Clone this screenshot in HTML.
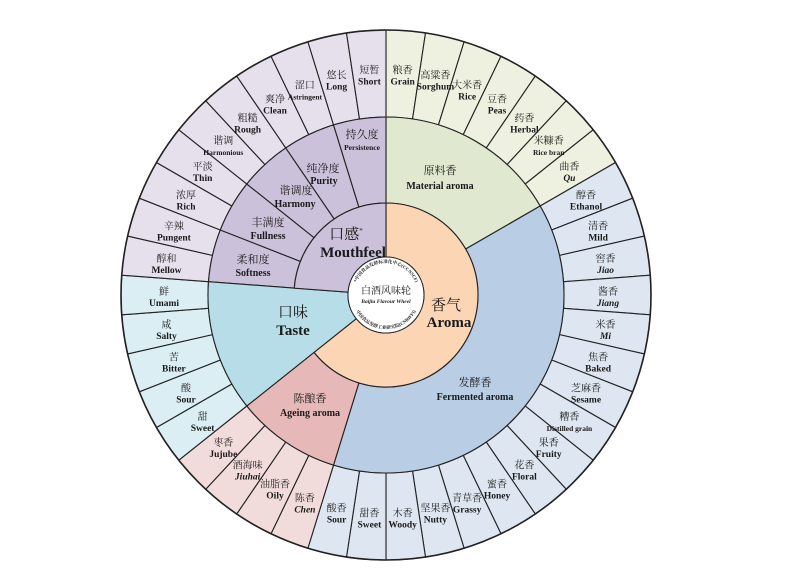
<!DOCTYPE html>
<html><head><meta charset="utf-8">
<style>
html,body{margin:0;padding:0;background:#fff;width:800px;height:569px;overflow:hidden}
svg{display:block}
text{font-family:"Liberation Serif","Noto Serif CJK SC","Noto Sans CJK SC",serif;fill:#1a1a1a;text-anchor:middle}
.c{font-size:10px}
.e{font-size:9.5px;font-weight:bold}
.s{font-size:7.5px;font-weight:bold}
.i{font-style:italic}
.mc{font-size:11px}
.me{font-size:10px;font-weight:bold}
.bc{font-size:15px}
.be{font-size:15px;font-weight:bold}
</style></head><body>
<svg id="s" width="800" height="569" viewBox="0 0 800 569" xmlns="http://www.w3.org/2000/svg">
<g id="w"></g>
<circle cx="386" cy="295" r="38" fill="#fff" stroke="#222" stroke-width="1"/>
<defs>
<path id="tp" d="M 354 295 A 32 32 0 0 1 418 295"/>
<path id="bp" d="M 352 295 A 34 34 0 0 0 420 295"/>
</defs>
<text style="font-size:4.6px;font-weight:bold"><textPath href="#tp" startOffset="50%">*中国食品发酵标准化中心(CCNSCF)</textPath></text>
<text style="font-size:4.6px;font-weight:bold"><textPath href="#bp" startOffset="50%">中国食品发酵工业研究院(CNRIFFI)</textPath></text>
<text x="386" y="294" style="font-size:10px">白酒风味轮</text>
<text x="386" y="303" class="i" style="font-size:5.5px;font-weight:bold">Baijiu Flavour Wheel</text>

<g id="o">
<g><text class="c">粮香</text><text class="e" y="11">Grain</text></g>
<g><text class="c">高粱香</text><text class="e" y="11">Sorghum</text></g>
<g><text class="c">大米香</text><text class="e" y="11">Rice</text></g>
<g><text class="c">豆香</text><text class="e" y="11">Peas</text></g>
<g><text class="c">药香</text><text class="e" y="11">Herbal</text></g>
<g><text class="c">米糠香</text><text class="s" y="11">Rice bran</text></g>
<g><text class="c">曲香</text><text class="e i" y="11">Qu</text></g>
<g><text class="c">醇香</text><text class="e" y="11">Ethanol</text></g>
<g><text class="c">清香</text><text class="e" y="11">Mild</text></g>
<g><text class="c">窖香</text><text class="e i" y="11">Jiao</text></g>
<g><text class="c">酱香</text><text class="e i" y="11">Jiang</text></g>
<g><text class="c">米香</text><text class="e i" y="11">Mi</text></g>
<g><text class="c">焦香</text><text class="e" y="11">Baked</text></g>
<g><text class="c">芝麻香</text><text class="e" y="11">Sesame</text></g>
<g><text class="c">糟香</text><text class="s" y="11">Distilled grain</text></g>
<g><text class="c">果香</text><text class="e" y="11">Fruity</text></g>
<g><text class="c">花香</text><text class="e" y="11">Floral</text></g>
<g><text class="c">蜜香</text><text class="e" y="11">Honey</text></g>
<g><text class="c">青草香</text><text class="e" y="11">Grassy</text></g>
<g><text class="c">坚果香</text><text class="e" y="11">Nutty</text></g>
<g><text class="c">木香</text><text class="e" y="11">Woody</text></g>
<g><text class="c">甜香</text><text class="e" y="11">Sweet</text></g>
<g><text class="c">酸香</text><text class="e" y="11">Sour</text></g>
<g><text class="c">陈香</text><text class="e i" y="11">Chen</text></g>
<g><text class="c">油脂香</text><text class="e" y="11">Oily</text></g>
<g><text class="c">酒海味</text><text class="e i" y="11">Jiuhai</text></g>
<g><text class="c">枣香</text><text class="e" y="11">Jujube</text></g>
<g><text class="c">甜</text><text class="e" y="11">Sweet</text></g>
<g><text class="c">酸</text><text class="e" y="11">Sour</text></g>
<g><text class="c">苦</text><text class="e" y="11">Bitter</text></g>
<g><text class="c">咸</text><text class="e" y="11">Salty</text></g>
<g><text class="c">鲜</text><text class="e" y="11">Umami</text></g>
<g><text class="c">醇和</text><text class="e" y="11">Mellow</text></g>
<g><text class="c">辛辣</text><text class="e" y="11">Pungent</text></g>
<g><text class="c">浓厚</text><text class="e" y="11">Rich</text></g>
<g><text class="c">平淡</text><text class="e" y="11">Thin</text></g>
<g><text class="c">谐调</text><text class="s" y="11">Harmonious</text></g>
<g><text class="c">粗糙</text><text class="e" y="11">Rough</text></g>
<g><text class="c">爽净</text><text class="e" y="11">Clean</text></g>
<g><text class="c">涩口</text><text class="s" y="11">Astringent</text></g>
<g><text class="c">悠长</text><text class="e" y="11">Long</text></g>
<g><text class="c">短暂</text><text class="e" y="11">Short</text></g>
</g>

<text x="362" y="138" class="mc">持久度</text><text x="362" y="150" class="s">Persistence</text>
<text x="323" y="172" class="mc">纯净度</text><text x="324" y="184" class="me">Purity</text>
<text x="296" y="194" class="mc">谐调度</text><text x="295" y="207" class="me">Harmony</text>
<text x="268" y="226" class="mc">丰满度</text><text x="268" y="239" class="me">Fullness</text>
<text x="253" y="263" class="mc">柔和度</text><text x="253" y="276" class="me">Softness</text>

<text x="440" y="174" class="mc">原料香</text><text x="440" y="189" class="me">Material aroma</text>
<text x="475" y="386" class="mc">发酵香</text><text x="475" y="400" class="me">Fermented aroma</text>
<text x="310" y="402" class="mc">陈酿香</text><text x="310" y="416" class="me">Ageing aroma</text>

<text x="346" y="239" class="bc">口感<tspan style="font-size:7px" dy="-6">*</tspan></text>
<text x="353" y="257" class="be">Mouthfeel</text>
<text x="293" y="317" class="bc">口味</text><text x="293" y="335" class="be">Taste</text>
<text x="446" y="310" class="bc">香气</text><text x="449" y="327" class="be">Aroma</text>
</svg>
<script>
(function(){
var cx=386,cy=295,R=265,M=178,I=92,C=38,st=360/42,NS="http://www.w3.org/2000/svg";
var w=document.getElementById('w');
function pt(r,a){var t=a*Math.PI/180;return [cx+r*Math.sin(t),cy-r*Math.cos(t)];}
function wedge(r0,r1,a0,a1,fill,sw){
 var p0=pt(r1,a0),p1=pt(r1,a1),p2=pt(r0,a1),p3=pt(r0,a0),lg=(a1-a0)>180?1:0;
 var d="M"+p0+" A"+r1+" "+r1+" 0 "+lg+" 1 "+p1+" L"+p2+" A"+r0+" "+r0+" 0 "+lg+" 0 "+p3+" Z";
 var e=document.createElementNS(NS,'path');e.setAttribute('d',d);e.setAttribute('fill',fill);
 e.setAttribute('stroke','#222');e.setAttribute('stroke-width',sw||1.1);w.appendChild(e);}
var cats=[[0,7,'#eef0e0','#e0e9cf'],[7,23,'#dde6f1','#b9cde5'],[23,27,'#f2dcdb','#e6b9b8'],[27,32,'#dbeef3','#b7dee8'],[32,42,'#e6e0ec','#ccc1da']];
cats.forEach(function(c){
 for(var k=c[0];k<c[1];k++) wedge(M,R,k*st,(k+1)*st,c[2]);
});
wedge(I,M,0,7*st,'#e0e9cf');
wedge(I,M,7*st,23*st,'#b9cde5');
wedge(I,M,23*st,27*st,'#e6b9b8');
for(var k=32;k<42;k+=2) wedge(I,M,k*st,(k+2)*st,'#ccc1da');
wedge(C,I,0,27*st,'#fcd5b5');
wedge(C,M,27*st,32*st,'#b7dee8');
wedge(C,I,32*st,360-0.0001,'#ccc1da');
var oc=document.createElementNS(NS,'circle');oc.setAttribute('cx',cx);oc.setAttribute('cy',cy);oc.setAttribute('r',R);
oc.setAttribute('fill','none');oc.setAttribute('stroke','#222');oc.setAttribute('stroke-width',1.6);w.appendChild(oc);
var gs=document.getElementById('o').children;
for(var i=0;i<gs.length;i++){var p=pt(222,(i+0.5)*st);gs[i].setAttribute('transform','translate('+p[0].toFixed(1)+','+(p[1]).toFixed(1)+')');}
})();
</script>
</body></html>
